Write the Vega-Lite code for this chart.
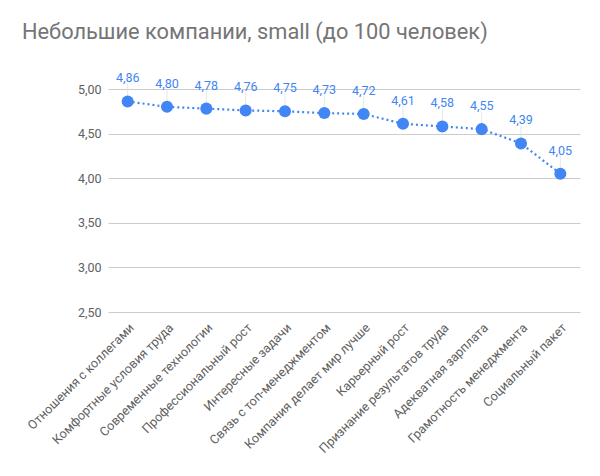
{
  "$schema": "https://vega.github.io/schema/vega-lite/v6.json",
  "width": 472,
  "height": 223,
  "autosize": {"type": "none"},
  "padding": {"left": 108, "top": 89, "right": 20, "bottom": 164},
  "background": "white",
  "title": {
    "text": "Небольшие компании, small (до 100 человек)",
    "anchor": "start",
    "frame": "group",
    "dx": -86,
    "offset": 29,
    "fontSize": 21.8,
    "font": "Roboto",
    "fontWeight": "normal",
    "color": "#757575"
  },
  "config": {
    "locale": {
      "number": {"decimal": ",", "thousands": " ", "grouping": [3], "currency": ["", ""]}
    },
    "view": {"stroke": null},
    "font": "Roboto"
  },
  "data": {
    "values": [
      {"factor": "Отношения с коллегами", "score": 4.86},
      {"factor": "Комфортные условия труда", "score": 4.80},
      {"factor": "Современные технологии", "score": 4.78},
      {"factor": "Профессиональный рост", "score": 4.76},
      {"factor": "Интересные задачи", "score": 4.75},
      {"factor": "Связь с топ-менеджментом", "score": 4.73},
      {"factor": "Компания делает мир лучше", "score": 4.72},
      {"factor": "Карьерный рост", "score": 4.61},
      {"factor": "Признание результатов труда", "score": 4.58},
      {"factor": "Адекватная зарплата", "score": 4.55},
      {"factor": "Грамотность менеджмента", "score": 4.39},
      {"factor": "Социальный пакет", "score": 4.05}
    ]
  },
  "encoding": {
    "x": {
      "field": "factor",
      "type": "nominal",
      "sort": null,
      "title": null,
      "scale": {"paddingInner": 0, "paddingOuter": 0},
      "axis": {
        "labelAngle": -45,
        "labelAlign": "right",
        "labelBaseline": "top",
        "labelFontSize": 12.6,
        "labelColor": "#616161",
        "labelPadding": 9,
        "labelLimit": 300,
        "ticks": false,
        "domain": false,
        "grid": false
      }
    },
    "y": {
      "field": "score",
      "type": "quantitative",
      "title": null,
      "scale": {"domain": [2.5, 5.0], "nice": false, "zero": false},
      "axis": {
        "values": [2.5, 3.0, 3.5, 4.0, 4.5, 5.0],
        "format": ".2f",
        "labelFontSize": 12.5,
        "labelColor": "#616161",
        "labelPadding": 7,
        "ticks": false,
        "domain": false,
        "gridColor": "#cccccc",
        "gridWidth": 1
      }
    }
  },
  "layer": [
    {
      "mark": {"type": "line", "color": "#4285F4", "strokeWidth": 2.2, "strokeDash": [2, 3], "clip": false}
    },
    {
      "mark": {"type": "tick", "orient": "vertical", "size": 18, "yOffset": -9, "thickness": 1, "color": "#dddddd", "clip": false}
    },
    {
      "mark": {"type": "point", "filled": true, "size": 145, "color": "#4285F4", "opacity": 1, "clip": false}
    },
    {
      "mark": {"type": "text", "dy": -19, "baseline": "alphabetic", "fontSize": 12.5, "color": "#4285F4", "clip": false},
      "encoding": {"text": {"field": "score", "type": "quantitative", "format": ".2f"}}
    }
  ]
}
